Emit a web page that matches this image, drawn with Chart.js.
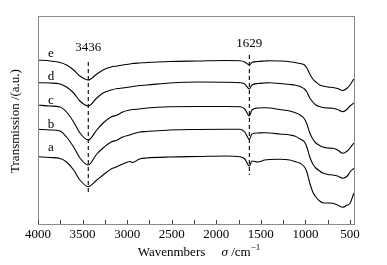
<!DOCTYPE html>
<html>
<head>
<meta charset="utf-8">
<script src="https://cdn.jsdelivr.net/npm/chart.js@4/dist/chart.umd.min.js"></script>
<style>
  body { margin: 0; background: #fff; }
  #box { width: 387px; height: 265px; }
</style>
</head>
<body>
<div id="box"><canvas id="ftir"></canvas></div>
<script>
// wavenumbers (cm-1) shared by all spectra
var wavenumbers = [4000, 3865, 3753, 3680, 3600, 3530, 3436, 3340, 3270, 3180, 3110, 3050, 2970, 2940, 2860, 2780, 2520, 2200, 1900, 1735, 1680, 1629, 1600, 1534, 1455, 1400, 1290, 1175, 1120, 1060, 1010, 984, 951, 917, 883, 840, 805, 750, 693, 640, 581, 530, 500, 457];

// transmission, arbitrary units (curves stacked)
var seriesE = [164, 163, 161.5, 159, 154, 148, 144, 150, 154, 157, 158, 159, 160, 160.5, 161, 161.5, 162.5, 163, 163.5, 163.3, 162, 159, 161.5, 162.5, 163, 163.3, 163, 162.3, 161.5, 160.5, 159, 156, 150, 145, 142, 139, 138, 137, 136.5, 135.5, 133.5, 136, 139, 145];
var seriesD = [141.3, 141, 140, 137, 131, 123, 118, 126, 131, 134, 135.5, 136, 137, 137.5, 138.5, 139, 141, 142, 141.8, 141.3, 140, 135, 139, 140.5, 141, 141.3, 140.5, 139.5, 139, 137.5, 135, 132, 126, 122, 119, 117.5, 116.5, 116, 115.7, 114.5, 112.3, 115, 118, 121];
var seriesC = [119, 118, 117, 112, 102, 91, 84, 94, 101, 107, 109, 112, 114, 114.5, 115, 116, 117.3, 117.5, 117.5, 117.3, 115, 108, 114, 116, 116.3, 116, 114.5, 113, 111.5, 109, 105, 100, 91, 85, 81, 78.5, 77, 76, 75.7, 74, 70.7, 73, 76, 81];
var seriesB = [94.7, 94, 93, 87, 77, 66, 59, 70, 76, 82, 84, 87, 89, 90, 92, 92.5, 94, 94.5, 94.7, 94.7, 92, 84.7, 90, 91, 91.3, 91, 90, 89, 88, 85, 82, 77, 67, 60, 56, 53, 51, 49.5, 49, 48, 45.7, 48, 52, 55.7];
var seriesA = [67.3, 66.5, 65.5, 62, 54, 44, 37.3, 44, 49, 55, 57.5, 60, 62.5, 61.5, 65, 66, 67, 67.5, 68, 67.3, 65, 58, 63, 62, 64, 64.5, 64.7, 64, 62.5, 60.7, 57, 52, 41, 32, 27, 23, 21.3, 21, 20.7, 19, 16.7, 19, 20.7, 30.7];

var seriesNames = ['e', 'd', 'c', 'b', 'a'];
var seriesLabelY = [170, 147.3, 123, 99, 76.3];

// marked peaks and the extent of their dashed guides
var peaks = [3436, 1629];
var peakTop = [162, 169];
var peakBottom = [29, 49];
var peakLabelY = [176, 180];

var xTicks = [500, 1000, 1500, 2000, 2500, 3000, 3500, 4000];

var serif = "'Liberation Serif', 'DejaVu Serif', serif";

function toPoints(ys) {
  return wavenumbers.map(function (w, i) { return { x: w, y: ys[i] }; });
}

var datasets = [seriesE, seriesD, seriesC, seriesB, seriesA].map(function (ys, i) {
  return {
    label: seriesNames[i],
    data: toPoints(ys),
    borderColor: '#000',
    borderWidth: 1.1,
    pointRadius: 0,
    cubicInterpolationMode: 'monotone',
    fill: false
  };
});

peaks.forEach(function (p, i) {
  datasets.push({
    label: 'peak ' + p,
    data: [{ x: p, y: peakTop[i] }, { x: p, y: peakBottom[i] }],
    borderColor: '#000',
    borderWidth: 1.1,
    borderDash: [4, 3],
    pointRadius: 0,
    fill: false
  });
});

var decor = {
  id: 'decor',
  afterDraw: function (chart) {
    var ctx = chart.ctx, a = chart.chartArea;
    var sx = chart.scales.x, sy = chart.scales.y;
    ctx.save();
    // frame
    ctx.strokeStyle = '#8a8a8a';
    ctx.lineWidth = 1;
    ctx.strokeRect(a.left + 0.5, a.top + 0.5, a.right - a.left, a.bottom - a.top);
    // inward ticks on the bottom axis
    ctx.strokeStyle = '#444';
    for (var w = 500; w <= 4000; w += 250) {
      var px = Math.round(sx.getPixelForValue(w)) + 0.5;
      ctx.beginPath();
      ctx.moveTo(px, a.bottom);
      ctx.lineTo(px, a.bottom - 4);
      ctx.stroke();
    }
    ctx.fillStyle = '#000';
    ctx.textAlign = 'center';
    ctx.textBaseline = 'middle';
    ctx.font = '13px ' + serif;
    // peak labels
    peaks.forEach(function (p, i) {
      ctx.fillText(String(p), sx.getPixelForValue(p), sy.getPixelForValue(peakLabelY[i]));
    });
    // curve letters
    seriesNames.forEach(function (n, i) {
      ctx.fillText(n, sx.getPixelForValue(3855), sy.getPixelForValue(seriesLabelY[i]));
    });
    // x axis title with italic sigma and superscript
    var y0 = 253;
    var parts = [
      { t: 'Wavenmbers', f: '13px ' + serif, dy: 0 },
      { t: '     ', f: '13px ' + serif, dy: 0 },
      { t: 'σ', f: 'italic 13px ' + serif, dy: 0 },
      { t: ' /cm', f: '13px ' + serif, dy: 0 },
      { t: '−1', f: '9px ' + serif, dy: -5 }
    ];
    var total = 0;
    parts.forEach(function (p) { ctx.font = p.f; p.w = ctx.measureText(p.t).width; total += p.w; });
    var cx = (a.left + a.right) / 2 + 3 - total / 2;
    ctx.textAlign = 'left';
    parts.forEach(function (p) {
      ctx.font = p.f;
      ctx.fillText(p.t, cx, y0 + p.dy);
      cx += p.w;
    });
    // y axis title
    ctx.translate(16, 121);
    ctx.rotate(-Math.PI / 2);
    ctx.textAlign = 'center';
    ctx.font = '13px ' + serif;
    ctx.fillText('Transmission /(a.u.)', 0, 0);
    ctx.restore();
  }
};

new Chart(document.getElementById('ftir').getContext('2d'), {
  type: 'line',
  data: { datasets: datasets },
  options: {
    responsive: true,
    maintainAspectRatio: false,
    animation: false,
    layout: { padding: { top: 16, right: 33, left: 0, bottom: 0 } },
    plugins: { legend: { display: false }, tooltip: { enabled: false } },
    scales: {
      x: {
        type: 'linear',
        reverse: true,
        min: 455,
        max: 4000,
        afterBuildTicks: function (scale) {
          scale.ticks = xTicks.map(function (v) { return { value: v }; });
        },
        afterFit: function (scale) { scale.height = 41; },
        grid: { display: false, drawTicks: false },
        border: { display: false },
        ticks: {
          color: '#000',
          font: { family: serif, size: 13 },
          padding: 3,
          maxRotation: 0,
          autoSkip: false,
          callback: function (v) { return String(v); }
        }
      },
      y: {
        min: 0,
        max: 208,
        afterFit: function (scale) { scale.width = 38; },
        grid: { display: false, drawTicks: false },
        border: { display: false },
        ticks: { display: false }
      }
    }
  },
  plugins: [decor]
});
</script>
</body>
</html>
